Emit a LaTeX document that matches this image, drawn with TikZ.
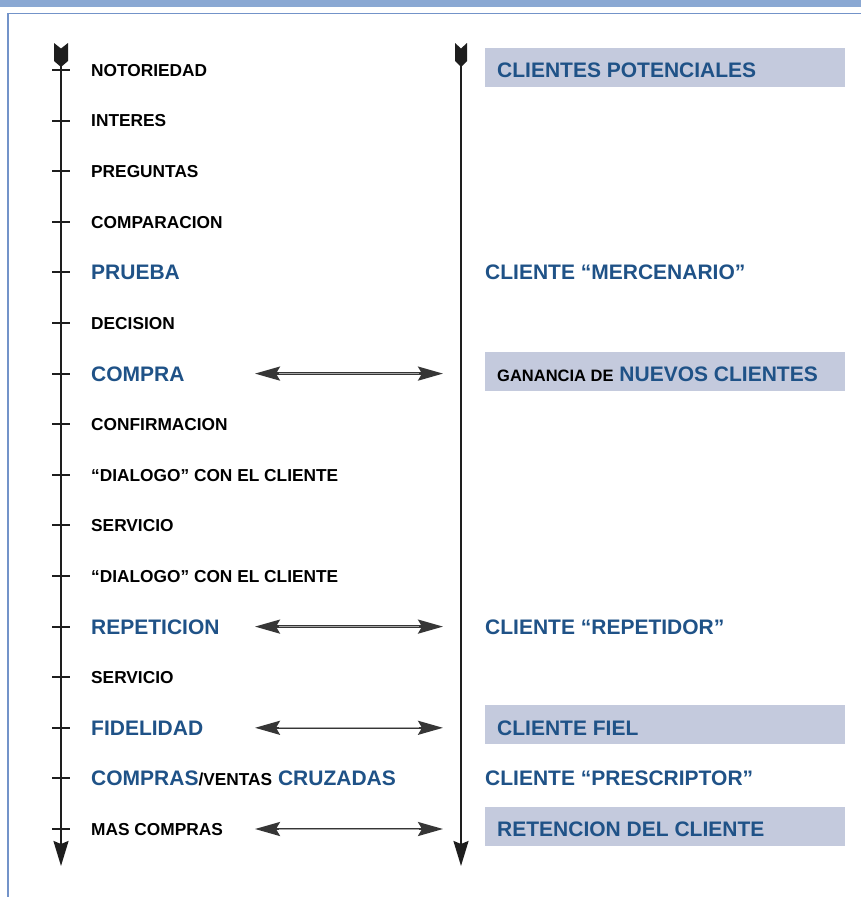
\documentclass[tikz,border=0pt]{standalone}
\usepackage{fontspec}
\setmainfont{Liberation Sans}
\usetikzlibrary{arrows.meta}
\definecolor{barblue}{HTML}{8AA8D3}
\definecolor{frameblue}{HTML}{7393C9}
\definecolor{boxfill}{HTML}{C4CADD}
\definecolor{txtblue}{HTML}{1F5287}
\definecolor{axiscol}{HTML}{1E1E1E}
\definecolor{arrcol}{HTML}{363636}
\newcommand{\blkfont}{\fontsize{17.3}{20}\selectfont\bfseries}
\newcommand{\blufont}{\fontsize{21}{24}\selectfont\bfseries}
\begin{document}
\begin{tikzpicture}[x=1pt,y=-1pt,
  blk/.style={anchor=west, inner sep=0pt, text height=12.4pt, text depth=0pt, font=\blkfont, text=black},
  blu/.style={anchor=west, inner sep=0pt, text height=15pt, text depth=0pt, font=\blufont, text=txtblue},
  boxr/.style={fill=boxfill, draw=none, minimum width=360pt, minimum height=39pt, inner sep=0pt, anchor=west},
  axisline/.style={draw=axiscol, line width=2pt, -{Stealth[length=25pt,width=15pt,inset=3pt]}},
  tickline/.style={draw=axiscol, line width=2pt},
  darrow/.style={draw=arrcol, line width=2.4pt, {Stealth[length=25pt,width=14pt,inset=4pt]}-{Stealth[length=25pt,width=14pt,inset=4pt]}},
  dcore/.style={draw=gray!70, line width=0.8pt, shorten <=24pt, shorten >=24pt}
]
\useasboundingbox (0,0) rectangle (861,897);
% frame
\fill[barblue] (0,0) rectangle (861,7);
\draw[frameblue, line width=1.3pt] (8,897) -- (8,13.5) -- (861,13.5);

% left axis
\fill[axiscol] (54,43) -- (61,48.5) -- (68,43) -- (68,61) -- (61,67) -- (54,61) -- cycle;
\coordinate (Ltop) at (61,62);
\coordinate (Lbot) at (61,866);
\draw[axisline] (Ltop) -- (Lbot);
\foreach \i in {0,...,15} {
  \pgfmathsetmacro\ty{round(70+50.6*\i)}
  \draw[tickline] (52,\ty) -- (70,\ty);
}

% right axis
\fill[axiscol] (455,43) -- (461,48.5) -- (467,43) -- (467,61) -- (461,67) -- (455,61) -- cycle;
\coordinate (Rtop) at (461,62);
\coordinate (Rbot) at (461,866);
\draw[axisline] (Rtop) -- (Rbot);

% left labels
\node[blk] (l0)  at (91,70)    {NOTORIEDAD};
\node[blk] (l1)  at (91,120.6) {INTERES};
\node[blk] (l2)  at (91,171.2) {PREGUNTAS};
\node[blk] (l3)  at (91,221.8) {COMPARACION};
\node[blu] (l4)  at (91,272.4) {PRUEBA};
\node[blk] (l5)  at (91,323)   {DECISION};
\node[blu] (l6)  at (91,373.6) {COMPRA};
\node[blk] (l7)  at (91,424.2) {CONFIRMACION};
\node[blk] (l8)  at (91,474.8) {“DIALOGO” CON EL CLIENTE};
\node[blk] (l9)  at (91,525.4) {SERVICIO};
\node[blk] (l10) at (91,576)   {“DIALOGO” CON EL CLIENTE};
\node[blu] (l11) at (91,626.6) {REPETICION};
\node[blk] (l12) at (91,677.2) {SERVICIO};
\node[blu] (l13) at (91,727.8) {FIDELIDAD};
\node[blu] (l14) at (91,778.4) {COMPRAS{\color{black}\blkfont/VENTAS} CRUZADAS};
\node[blk] (l15) at (91,829)   {MAS COMPRAS};

% right boxes
\node[boxr] (b0)  at (485,67)    {};
\node[boxr] (b6)  at (485,371)   {};
\node[boxr] (b13) at (485,724.5) {};
\node[boxr] (b15) at (485,826.5) {};

% right labels
\node[blu] (r0)  at (497,70)    {CLIENTES POTENCIALES};
\node[blu] (r4)  at (485,272.4) {CLIENTE “MERCENARIO”};
\node[blu] (r6)  at (497,373.6) {{\color{black}\fontsize{16.5}{19}\selectfont\bfseries GANANCIA DE} NUEVOS CLIENTES};
\node[blu] (r11) at (485,626.6) {CLIENTE “REPETIDOR”};
\node[blu] (r13) at (497,727.8) {CLIENTE FIEL};
\node[blu] (r14) at (485,778.4) {CLIENTE “PRESCRIPTOR”};
\node[blu] (r15) at (497,829)   {RETENCION DEL CLIENTE};

% double arrows
\coordinate (a6l) at (255,373.6);  \coordinate (a6r) at (443,373.6);
\coordinate (a11l) at (255,626.6); \coordinate (a11r) at (443,626.6);
\coordinate (a13l) at (255,727.8); \coordinate (a13r) at (443,727.8);
\coordinate (a15l) at (255,829);   \coordinate (a15r) at (443,829);
\foreach \p in {6,11,13,15} {
  \draw[darrow] (a\p l) -- (a\p r);
  \draw[dcore] (a\p l) -- (a\p r);
}
\end{tikzpicture}
\end{document}
